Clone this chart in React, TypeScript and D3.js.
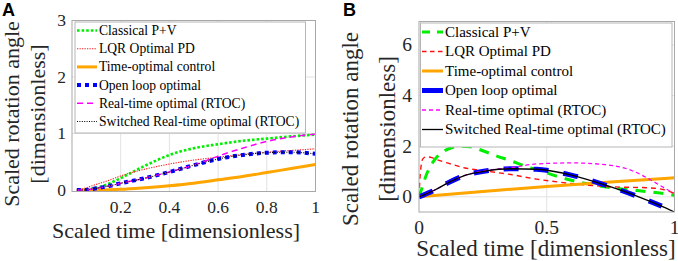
import React from "react";
import * as d3 from "d3";

// ---------- Panel A data ----------
const tA = [0.02, 0.05, 0.1, 0.15, 0.2, 0.3, 0.4, 0.5, 0.6, 0.7, 0.8, 0.9, 1.0];
const aClassical = [0, 0.0, 0.04, 0.11, 0.21, 0.43, 0.62, 0.74, 0.81, 0.87, 0.91, 0.95, 0.98];
const aLQR = [0, 0.03, 0.1, 0.17, 0.25, 0.37, 0.46, 0.53, 0.58, 0.63, 0.67, 0.7, 0.73];
const aTimeOpt = [0, 0, 0.0, 0.005, 0.012, 0.04, 0.075, 0.12, 0.18, 0.24, 0.31, 0.38, 0.45];
const aOpenLoop = [0, 0.0, 0.03, 0.07, 0.12, 0.21, 0.32, 0.44, 0.55, 0.62, 0.66, 0.67, 0.64];
const aRTOC = [0, 0.0, 0.03, 0.07, 0.12, 0.21, 0.32, 0.44, 0.6, 0.74, 0.86, 0.94, 0.99];
const aSwitched = [0, 0.0, 0.03, 0.07, 0.12, 0.21, 0.32, 0.44, 0.55, 0.62, 0.66, 0.67, 0.64];
const aXTicks = [0.2, 0.4, 0.6, 0.8, 1];
const aYTicks = [0, 1, 2, 3];

// ---------- Panel B data ----------
const bClassicalT = [0, 0.01, 0.03, 0.05, 0.07, 0.1, 0.13, 0.16, 0.2, 0.25, 0.3, 0.36, 0.42, 0.47, 0.55, 0.62, 0.7, 0.8, 0.9, 0.95, 1.0];
const bClassicalY = [0, 0.3, 0.9, 1.3, 1.57, 1.82, 1.95, 2.0, 1.98, 1.82, 1.63, 1.42, 1.2, 1.05, 0.78, 0.6, 0.44, 0.3, 0.2, 0.14, 0.06];
const bLQRT = [0, 0.005, 0.015, 0.03, 0.05, 0.07, 0.12, 0.18, 0.26, 0.36, 0.46, 0.55, 0.65, 0.73, 0.8, 0.86, 0.92, 0.96, 1.0];
const bLQRY = [0, 0.9, 1.5, 1.58, 1.55, 1.47, 1.31, 1.14, 1.02, 0.88, 0.7, 0.58, 0.47, 0.41, 0.38, 0.37, 0.34, 0.28, 0.13];
const bTimeOptT = [0, 0.25, 0.5, 0.75, 1.0];
const bTimeOptY = [0, 0.21, 0.41, 0.59, 0.75];
const bOpenLoopT = [0, 0.06, 0.12, 0.18, 0.26, 0.36, 0.46, 0.6, 0.73, 0.86, 0.95];
const bOpenLoopY = [0, 0.26, 0.59, 0.85, 1.02, 1.11, 1.09, 0.85, 0.46, 0, -0.37];
const bRTOCT = [0, 0.06, 0.12, 0.18, 0.26, 0.36, 0.46, 0.6, 0.73, 0.83, 0.91, 0.96, 1.0];
const bRTOCY = [0, 0.26, 0.59, 0.85, 1.04, 1.15, 1.3, 1.34, 1.27, 1.05, 0.65, 0.35, 0.13];
const bSwitchedT = [0, 0.06, 0.12, 0.18, 0.26, 0.36, 0.46, 0.6, 0.73, 0.86, 0.94, 1.0];
const bSwitchedY = [0, 0.26, 0.59, 0.85, 1.02, 1.11, 1.09, 0.85, 0.46, 0, -0.33, -0.6];
const bXTicks = [0, 0.5, 1];
const bXTickLabels = ["0", "0.5", "1"];
const bYTicks = [0, 2, 4, 6];

const legendNames = [
  "Classical P+V",
  "LQR Optimal PD",
  "Time-optimal control",
  "Open loop optimal",
  "Real-time optimal (RTOC)",
  "Switched Real-time optimal (RTOC)",
];

const SERIF = "Liberation Serif";

type Style = { color: string; width: number; dash?: string; legendDash?: string };

const stylesA: Style[] = [
  { color: "#00ee00", width: 2.6, dash: "2.6 2", legendDash: "2.6 2" },
  { color: "#ff2020", width: 1.1, dash: "1.3 1.2", legendDash: "1.3 1.2" },
  { color: "#ffa500", width: 3 },
  { color: "#0000ff", width: 4, dash: "4 4", legendDash: "4 4" },
  { color: "#ff00ff", width: 1.5, dash: "6 4", legendDash: "6 4" },
  { color: "#000000", width: 1.1, dash: "1 1.4", legendDash: "1 1.4" },
];

const stylesB: Style[] = [
  { color: "#00ee00", width: 3, dash: "10 8", legendDash: "8 7" },
  { color: "#ff1010", width: 1.4, dash: "5 4", legendDash: "4.5 3.5" },
  { color: "#ffa500", width: 3 },
  { color: "#0000ff", width: 5, dash: "15 15", legendDash: "21 0" },
  { color: "#ff00ff", width: 1.3, dash: "4 3", legendDash: "4 3" },
  { color: "#000000", width: 1.3 },
];

function Panel(props: {
  id: string;
  letter: string;
  letterX: number;
  x0: number; x1: number; y0: number; y1: number;
  xDomain: [number, number]; yDomain: [number, number];
  series: { t: number[]; y: number[] }[];
  styles: Style[];
  xTicks: number[]; xTickLabels: string[];
  yTicks: number[];
  vGrid: number[]; hGrid: number[];
  tickFont: number; labelFont: number; legendFont: number;
  legend: { x0: number; x1: number; y0: number; y1: number; rowY: number[]; lineX0: number; lineX1: number; textX: number };
  xLabelX: number; xLabelY: number; xTickY: number; yTickX: number;
  yLab1X: number; yLab2X: number; yLabCY: number;
}) {
  const p = props;
  const x = d3.scaleLinear().domain(p.xDomain).range([p.x0, p.x1]);
  const y = d3.scaleLinear().domain(p.yDomain).range([p.y1, p.y0]);
  const line = d3
    .line<[number, number]>()
    .x((d) => x(d[0]))
    .y((d) => y(d[1]))
    .curve(d3.curveMonotoneX);
  const clipId = "clip" + p.id;
  return (
    <g>
      <defs>
        <clipPath id={clipId}>
          <rect x={p.x0} y={p.y0} width={p.x1 - p.x0} height={p.y1 - p.y0} />
        </clipPath>
      </defs>
      <rect x={p.x0} y={p.y0} width={p.x1 - p.x0} height={p.y1 - p.y0} fill="#fff" />
      {p.vGrid.map((v) => (
        <line key={"v" + v} x1={x(v)} x2={x(v)} y1={p.y0} y2={p.y1} stroke="#e2e2e2" strokeWidth={1} />
      ))}
      {p.hGrid.map((v) => (
        <line key={"h" + v} x1={p.x0} x2={p.x1} y1={y(v)} y2={y(v)} stroke="#e2e2e2" strokeWidth={1} />
      ))}
      <g clipPath={`url(#${clipId})`}>
        {p.series.map((s, i) => {
          const st = p.styles[i];
          const pts: [number, number][] = s.t.map((t, k) => [t, s.y[k]]);
          return (
            <path
              key={i}
              d={line(pts) || ""}
              fill="none"
              stroke={st.color}
              strokeWidth={st.width}
              strokeDasharray={st.dash}
            />
          );
        })}
      </g>
      <rect x={p.x0} y={p.y0} width={p.x1 - p.x0} height={p.y1 - p.y0} fill="none" stroke="#a8a8a8" strokeWidth={1} />
      {/* legend */}
      <rect
        x={p.legend.x0}
        y={p.legend.y0}
        width={p.legend.x1 - p.legend.x0}
        height={p.legend.y1 - p.legend.y0}
        fill="#fff"
        stroke="#b5b5b5"
        strokeWidth={1}
      />
      {legendNames.map((n, i) => {
        const st = p.styles[i];
        const ry = p.legend.rowY[i];
        return (
          <g key={n}>
            <line
              x1={p.legend.lineX0}
              x2={p.legend.lineX1}
              y1={ry}
              y2={ry}
              stroke={st.color}
              strokeWidth={st.width}
              strokeDasharray={st.legendDash}
            />
            <text x={p.legend.textX} y={ry + p.legendFont * 0.33} fontFamily={SERIF} fontSize={p.legendFont} fill="#000">
              {n}
            </text>
          </g>
        );
      })}
      {/* ticks */}
      {p.xTicks.map((v, i) => (
        <text key={"xt" + v} x={x(v)} y={p.xTickY} textAnchor="middle" fontFamily={SERIF} fontSize={p.tickFont} fill="#262626">
          {p.xTickLabels[i]}
        </text>
      ))}
      {p.yTicks.map((v) => (
        <text key={"yt" + v} x={p.yTickX} y={y(v) + p.tickFont * 0.33} textAnchor="end" fontFamily={SERIF} fontSize={p.tickFont} fill="#262626">
          {String(v)}
        </text>
      ))}
      <text x={p.xLabelX} y={p.xLabelY} textAnchor="middle" fontFamily={SERIF} fontSize={p.labelFont} fill="#262626">
        Scaled time [dimensionless]
      </text>
      <text
        transform={`translate(${p.yLab1X},${p.yLabCY}) rotate(-90)`}
        textAnchor="middle"
        fontFamily={SERIF}
        fontSize={p.labelFont}
        fill="#262626"
      >
        Scaled rotation angle
      </text>
      <text
        transform={`translate(${p.yLab2X},${p.yLabCY}) rotate(-90)`}
        textAnchor="middle"
        fontFamily={SERIF}
        fontSize={p.labelFont}
        fill="#262626"
      >
        [dimensionless]
      </text>
      <text x={p.letterX} y={16} fontFamily="Liberation Sans" fontWeight="bold" fontSize={18} fill="#000">
        {p.letter}
      </text>
    </g>
  );
}

export default function App() {
  const seriesA = [aClassical, aLQR, aTimeOpt, aOpenLoop, aRTOC, aSwitched].map((yv) => ({ t: tA, y: yv }));
  const seriesB = [
    { t: bClassicalT, y: bClassicalY },
    { t: bLQRT, y: bLQRY },
    { t: bTimeOptT, y: bTimeOptY },
    { t: bOpenLoopT, y: bOpenLoopY },
    { t: bRTOCT, y: bRTOCY },
    { t: bSwitchedT, y: bSwitchedY },
  ];
  return (
    <svg
      width={678}
      height={261}
      style={{ position: "fixed", left: 0, top: 0, background: "#fff" }}
      xmlns="http://www.w3.org/2000/svg"
    >
      <rect width={678} height={261} fill="#fff" />
      <Panel
        id="A"
        letter="A"
        letterX={2}
        x0={72} x1={315.5} y0={20.5} y1={191.5}
        xDomain={[0, 1]} yDomain={[-0.026, 3]}
        series={seriesA}
        styles={stylesA}
        xTicks={aXTicks} xTickLabels={aXTicks.map((v) => (v === 1 ? "1" : v.toFixed(1)))}
        yTicks={aYTicks}
        vGrid={[0.2, 0.4, 0.6, 0.8]} hGrid={[1, 2]}
        tickFont={17.5} labelFont={22} legendFont={13.6}
        legend={{ x0: 75, x1: 305.5, y0: 22, y1: 133, rowY: [30.5, 48.7, 66.9, 85.1, 103.3, 121.5], lineX0: 77, lineX1: 97, textX: 99 }}
        xLabelX={176} xLabelY={238} xTickY={213} yTickX={66}
        yLab1X={18.5} yLab2X={45} yLabCY={114}
      />
      <Panel
        id="B"
        letter="B"
        letterX={343}
        x0={419} x1={674.5} y0={21.5} y1={212}
        xDomain={[0, 1]} yDomain={[-0.6, 6.93]}
        series={seriesB}
        styles={stylesB}
        xTicks={bXTicks} xTickLabels={bXTickLabels}
        yTicks={bYTicks}
        vGrid={[0.5]} hGrid={[0, 2, 4, 6]}
        tickFont={19.5} labelFont={23} legendFont={15}
        legend={{ x0: 420.5, x1: 672, y0: 23, y1: 147, rowY: [32, 51.5, 71, 90.5, 110, 129.5], lineX0: 422, lineX1: 443, textX: 445 }}
        xLabelX={546} xLabelY={256} xTickY={234} yTickX={412}
        yLab1X={358} yLab2X={395} yLabCY={129}
      />
    </svg>
  );
}
